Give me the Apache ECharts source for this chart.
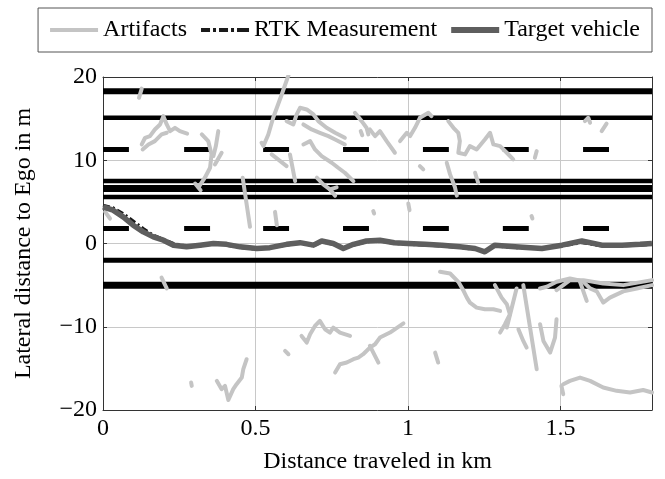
<!DOCTYPE html>
<html><head><meta charset="utf-8">
<script src="https://cdn.jsdelivr.net/npm/echarts@6.0.0/dist/echarts.min.js"></script>
<style>html,body{margin:0;padding:0;background:#fff}#c{width:665px;height:479px}</style>
</head><body><div id="c"></div><script>
// ---------- data ----------
const xTicks = [0, 0.5, 1, 1.5];
const yTicks = [-20, -10, 0, 10, 20];
// solid lane markings (lateral position in m)
const solidLanes = [18.3, 15.1, 7.5, 6.6, 5.6, -2.0, -5.0];
// dashed lane markings (lateral position in m)
const dashedLanes = [11.3, 1.8];
// dash start positions (km) and dash length (km)
const dashStarts = [0, 0.266, 0.525, 0.787, 1.049, 1.311, 1.574];
const dashLength = 0.085;

const targetVehicle = [[0,4.4],[0.033,4.0],[0.066,3.2],[0.099,2.2],[0.132,1.4],[0.165,0.8],[0.198,0.4],[0.231,-0.2],[0.274,-0.4],[0.318,-0.2],[0.362,0],[0.405,-0.1],[0.449,-0.4],[0.504,-0.6],[0.547,-0.5],[0.602,-0.1],[0.646,0.1],[0.690,-0.2],[0.717,0.3],[0.755,0],[0.788,-0.6],[0.821,-0.1],[0.864,0.3],[0.908,0.4],[0.955,0.1],[1.0,0],[1.056,-0.1],[1.111,-0.2],[1.170,-0.4],[1.220,-0.6],[1.252,-1.0],[1.285,-0.2],[1.351,-0.4],[1.439,-0.6],[1.505,-0.2],[1.570,0.3],[1.636,-0.2],[1.702,-0.2],[1.761,-0.1],[1.8,0]];

const rtkMeasurement = [[0,4.6],[0.033,4.3],[0.066,3.6],[0.099,2.7],[0.132,1.8],[0.165,1.0],[0.198,0.5],[0.231,0.0],[0.274,-0.3],[0.318,-0.3],[0.362,0.1],[0.405,-0.2],[0.449,-0.5],[0.504,-0.7],[0.547,-0.5],[0.602,-0.2],[0.646,0.1],[0.690,-0.3],[0.717,0.2],[0.755,-0.1],[0.788,-0.5],[0.821,-0.2],[0.864,0.2],[0.908,0.3],[0.955,0.0],[1.0,-0.1],[1.056,-0.2],[1.111,-0.3],[1.170,-0.5],[1.220,-0.7],[1.252,-0.9],[1.285,-0.3],[1.351,-0.5],[1.439,-0.6],[1.505,-0.3],[1.570,0.1],[1.636,-0.3],[1.702,-0.3],[1.761,-0.2],[1.8,-0.1]];

const artifacts = [
 [[0.127,18.6],[0.118,17.5]],
 [[0.127,11.9],[0.138,12.7],[0.154,12.9],[0.170,13.7],[0.187,14.3],[0.198,15.3],[0.209,14.3],[0.220,13.5],[0.236,13.9],[0.252,13.5],[0.276,13.2]],
 [[0.130,11.3],[0.149,11.9],[0.170,12.3],[0.192,13.1],[0.209,13.3]],
 [[0.324,13.1],[0.345,12.3],[0.356,10.7],[0.351,9.1],[0.334,7.9],[0.313,6.75]],
 [[0.378,13.5],[0.370,11.7],[0.362,10.5]],
 [[0.389,10.9],[0.367,9.5]],
 [[0.302,7.2],[0.320,6.4]],
 [[0.608,20.2],[0.586,17.9],[0.558,15.1],[0.542,13.1],[0.526,11.7],[0.520,12.1]],
 [[0.553,10.7],[0.602,9.3]],
 [[0.613,10.7],[0.630,7.5]],
 [[0.458,7.9],[0.482,2.0]],
 [[0.564,3.8],[0.570,2.2]],
 [[0.602,14.7],[0.624,14.3],[0.635,15.5],[0.646,16.3],[0.668,16.1],[0.690,15.5],[0.706,14.7],[0.733,13.9],[0.761,13.3],[0.793,12.7]],
 [[0.657,14.3],[0.684,13.7],[0.711,13.3],[0.739,12.9],[0.761,12.5],[0.793,11.9]],
 [[0.657,11.9],[0.679,12.3],[0.695,11.3],[0.717,10.5],[0.750,9.7],[0.771,9.1],[0.793,8.5],[0.821,7.5]],
 [[0.701,7.9],[0.722,7.1],[0.744,6.5],[0.761,5.75]],
 [[0.744,6.5],[0.766,6.75]],
 [[0.826,15.7],[0.848,14.7],[0.864,13.9],[0.870,13.1]],
 [[0.845,13.5],[0.850,13.0]],
 [[0.875,13.7],[0.892,12.9],[0.908,13.5],[0.930,12.3],[0.957,10.9]],
 [[0.974,12.3],[0.996,13.3],[1.007,12.9],[1.023,13.9],[1.039,15.1],[1.067,15.7],[1.077,15.3]],
 [[1.132,14.7],[1.149,13.9],[1.165,13.3],[1.170,12.3],[1.165,10.9],[1.187,10.7],[1.203,11.7],[1.225,11.3],[1.252,12.5],[1.269,13.3],[1.280,11.9],[1.302,11.7],[1.324,10.9],[1.345,10.1]],
 [[1.422,11.1],[1.416,10.3]],
 [[1.127,9.7],[1.138,8.3],[1.154,6.75],[1.160,5.75]],
 [[1.220,8.5],[1.230,7.3]],
 [[1.039,9.3],[1.050,8.9]],
 [[1.001,4.8],[1.005,4.0]],
 [[1.580,14.7],[1.591,15.1],[1.597,14.5]],
 [[1.635,13.5],[1.651,14.4]],
 [[0.886,3.9],[0.889,3.6]],
 [[1.405,3.3],[1.408,3.0]],
 [[0.007,3.8],[0.023,3.0]],
 [[0.192,-4.1],[0.209,-5.4]],
 [[0.373,-16.5],[0.389,-17.5],[0.400,-17.1],[0.411,-18.8],[0.427,-17.5],[0.438,-16.9],[0.455,-16.1],[0.460,-15.1],[0.471,-13.9]],
 [[0.289,-16.7],[0.291,-17.1]],
 [[0.597,-12.9],[0.608,-13.3]],
 [[0.651,-11.1],[0.668,-11.9],[0.679,-10.9],[0.695,-9.9],[0.711,-9.3],[0.728,-10.3],[0.744,-10.7],[0.755,-10.1],[0.777,-10.7],[0.810,-11.1]],
 [[0.761,-15.5],[0.777,-14.5],[0.799,-14.3],[0.821,-13.9],[0.837,-13.7],[0.853,-13.3],[0.875,-12.5],[0.892,-12.1],[0.908,-11.3],[0.941,-10.7],[0.985,-9.6]],
 [[0.875,-12.3],[0.903,-14.3]],
 [[1.089,-13.1],[1.099,-14.3]],
 [[1.105,-3.4],[1.138,-3.6],[1.165,-4.6],[1.181,-5.6],[1.193,-6.5],[1.203,-7.1],[1.225,-7.7],[1.252,-7.9],[1.280,-7.9],[1.302,-8.1]],
 [[1.285,-5.0],[1.307,-6.5],[1.324,-7.3],[1.334,-8.5],[1.318,-9.7],[1.302,-10.7]],
 [[1.356,-5.4],[1.324,-10.1]],
 [[1.378,-5.0],[1.422,-15.1]],
 [[1.362,-10.3],[1.378,-11.7],[1.389,-12.5]],
 [[1.433,-9.7],[1.444,-11.7],[1.466,-13.1],[1.482,-11.3],[1.487,-9.1]],
 [[1.433,-5.4],[1.455,-5.2],[1.487,-4.6],[1.531,-4.2],[1.558,-4.4],[1.575,-4.6],[1.597,-5.4],[1.619,-5.75],[1.640,-7.1],[1.662,-6.5],[1.706,-5.75],[1.750,-5.4],[1.800,-5.0]],
 [[1.487,-5.6],[1.531,-4.4],[1.575,-4.4],[1.640,-4.8],[1.706,-5.0],[1.800,-4.4]],
 [[1.564,-4.6],[1.586,-6.9]],
 [[1.509,-16.9],[1.531,-16.5],[1.564,-16.1],[1.597,-16.5],[1.640,-17.3],[1.684,-17.7],[1.728,-17.9],[1.771,-17.6],[1.800,-17.9]],
 [[1.503,-17.1],[1.509,-18.1]]
];

// ---------- chart ----------
const FONT = 'Liberation Serif';
const FS = 24;
const X_MIN = 0, X_MAX = 1.8;
const laneWidths = {'18.3':6, '15.1':4.5, '7.5':4.5, '6.6':7, '5.6':4.5, '-2':5, '-5':7, '11.3':5, '1.8':5};
const C_ART = '#c4c4c4', C_RTK = '#1a1a1a', C_TGT = '#5e5e5e';
const series = [];
solidLanes.forEach(y => {
  series.push({type:'line', silent:true, symbol:'none', animation:false,
    data:[[X_MIN,y],[X_MAX,y]], lineStyle:{color:'#000', width:laneWidths[String(y)]||5, cap:'butt'}, z:1});
});
dashedLanes.forEach(y => {
  dashStarts.forEach(s => {
    series.push({type:'line', silent:true, symbol:'none', animation:false,
      data:[[s,y],[s+dashLength,y]], lineStyle:{color:'#000', width:laneWidths[String(y)]||5, cap:'butt'}, z:1});
  });
});
artifacts.forEach(seg => {
  series.push({name:'Artifacts', type:'line', symbol:'none', animation:false, data:seg,
    lineStyle:{color:C_ART, width:4, join:'round', cap:'round'}, itemStyle:{color:C_ART}, z:2});
});
series.push({name:'RTK Measurement', type:'line', symbol:'none', animation:false, data:rtkMeasurement,
  lineStyle:{color:C_RTK, width:3, type:[7,3,2,3]}, itemStyle:{color:C_RTK}, z:3});
series.push({name:'Target vehicle', type:'line', symbol:'none', animation:false, data:targetVehicle,
  lineStyle:{color:C_TGT, width:5.5, join:'round'}, itemStyle:{color:C_TGT}, z:4});

const axisLine = {show:true, onZero:false, lineStyle:{color:'#333', width:1}};
const tick = {show:true, inside:true, length:4, lineStyle:{color:'#333'}};
const chart = echarts.init(document.getElementById('c'), null, {renderer:'canvas'});
chart.setOption({
  animation:false,
  backgroundColor:'#fff',
  textStyle:{fontFamily:FONT},
  legend:{
    data:[
      {name:'Artifacts', icon:'path://M0,0H48V4H0Z', itemStyle:{color:C_ART, borderWidth:0}},
      {name:'RTK Measurement', icon:'path://M0,0H9V4H0Z M12,0H15V4H12Z M18,0H27V4H18Z M30,0H33V4H30Z M36,0H48V4H36Z', itemStyle:{color:C_RTK, borderWidth:0}},
      {name:'Target vehicle', icon:'path://M0,0H48V6H0Z', itemStyle:{color:C_TGT, borderWidth:0}}
    ],
    right:13, top:8, itemWidth:48, itemHeight:6, itemGap:14,
    padding:[10,12,10,12], borderColor:'#555', borderWidth:1,
    textStyle:{fontFamily:FONT, fontSize:FS, color:'#000'}
  },
  grid:{left:103, right:13, top:77, bottom:66, containLabel:false},
  xAxis:[{
    type:'value', min:X_MIN, max:X_MAX, interval:0.5, position:'bottom',
    name:'Distance traveled in km', nameLocation:'middle', nameGap:40,
    nameTextStyle:{fontFamily:FONT, fontSize:FS, color:'#000'},
    axisLine, axisTick:tick,
    axisLabel:{fontFamily:FONT, fontSize:FS, color:'#000', margin:7, showMaxLabel:false,
      formatter:v => xTicks.includes(v) ? String(v) : ''},
    splitLine:{show:true, lineStyle:{color:'#c8c8c8', width:1}}
  },{
    type:'value', min:X_MIN, max:X_MAX, interval:0.5, position:'top',
    axisLine, axisTick:tick, axisLabel:{show:false}, splitLine:{show:false}
  }],
  yAxis:[{
    type:'value', min:-20, max:20, interval:10, position:'left',
    name:'Lateral distance to Ego in m', nameLocation:'middle', nameGap:67, nameRotate:90,
    nameTextStyle:{fontFamily:FONT, fontSize:FS, color:'#000'},
    axisLine, axisTick:tick,
    axisLabel:{fontFamily:FONT, fontSize:FS, color:'#000', margin:6,
      formatter:v => yTicks.includes(v) ? String(v).replace('-', '\u2212') : ''},
    splitLine:{show:true, lineStyle:{color:'#c8c8c8', width:1}}
  },{
    type:'value', min:-20, max:20, interval:10, position:'right',
    axisLine, axisTick:tick, axisLabel:{show:false}, splitLine:{show:false}
  }],
  series
});
</script></body></html>
